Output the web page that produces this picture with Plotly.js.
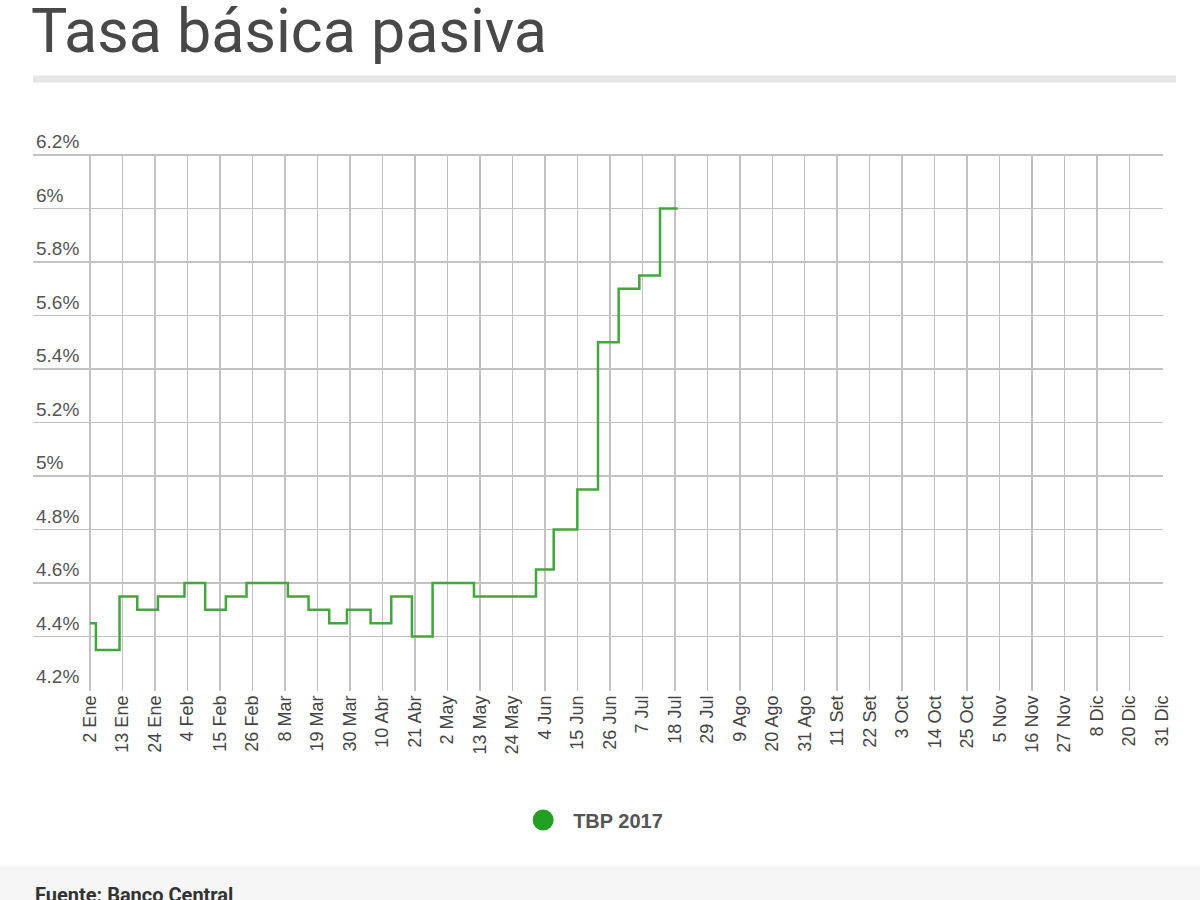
<!DOCTYPE html>
<html>
<head>
<meta charset="utf-8">
<script src="https://cdn.plot.ly/plotly-3.0.1.min.js"></script>
<style>
  html, body { margin: 0; padding: 0; background: #ffffff; }
  #chart { width: 1200px; height: 900px; }
</style>
</head>
<body>
<div id="chart"></div>
<script>
// ---- data ----
const seriesName = 'TBP 2017';
const changeDates = [
  '2017-01-02', '2017-01-04', '2017-01-12', '2017-01-18', '2017-01-25',
  '2017-02-03', '2017-02-10', '2017-02-17', '2017-02-24', '2017-03-10',
  '2017-03-17', '2017-03-24', '2017-03-30', '2017-04-07', '2017-04-14',
  '2017-04-21', '2017-04-28', '2017-05-12', '2017-06-02', '2017-06-08',
  '2017-06-16', '2017-06-23', '2017-06-30', '2017-07-07', '2017-07-14',
  '2017-07-20'
];
const rateValues = [
  4.45, 4.35, 4.55, 4.50, 4.55,
  4.60, 4.50, 4.55, 4.60, 4.55,
  4.50, 4.45, 4.50, 4.45, 4.55,
  4.40, 4.60, 4.55, 4.65, 4.80,
  4.95, 5.50, 5.70, 5.75, 6.00,
  6.00
];
const tickLabels = [
  '2 Ene', '13 Ene', '24 Ene', '4 Feb', '15 Feb', '26 Feb', '8 Mar', '19 Mar',
  '30 Mar', '10 Abr', '21 Abr', '2 May', '13 May', '24 May', '4 Jun', '15 Jun',
  '26 Jun', '7 Jul', '18 Jul', '29 Jul', '9 Ago', '20 Ago', '31 Ago', '11 Set',
  '22 Set', '3 Oct', '14 Oct', '25 Oct', '5 Nov', '16 Nov', '27 Nov', '8 Dic',
  '20 Dic', '31 Dic'
];

// ---- layout helpers ----
const DAY = 864e5;
const firstTick = Date.UTC(2017, 0, 2);
const tickStep = 11 * DAY;
const tickVals = tickLabels.map((_, i) => new Date(firstTick + i * tickStep).toISOString().slice(0, 10));
const xStart = new Date(firstTick - 19.3 * DAY).toISOString();
const xEnd = new Date(firstTick + (tickLabels.length - 1) * tickStep + 0.3 * DAY).toISOString();

const W = 1200, H = 900;
const M = { l: 33, r: 37, t: 128, b: 209 };
const pw = W - M.l - M.r, ph = H - M.t - M.b;
const px2x = px => (px - M.l) / pw;
const py2y = py => (H - M.b - py) / ph;
// vertical scale: 267.5 px per 1 percentage point
const yLow = 4.2 - 1 / 267.5;
const yHigh = yLow + ph / 267.5;

const traces = [
  {
    x: changeDates,
    y: rateValues,
    type: 'scatter',
    mode: 'lines',
    line: { shape: 'hv', color: '#43a63e', width: 2.5 },
    showlegend: false,
    hoverinfo: 'x+y'
  },
  {
    x: [null],
    y: [null],
    type: 'scatter',
    mode: 'markers',
    name: seriesName,
    marker: { color: '#22a022', size: 16, line: { color: '#22a022', width: 5 } },
    showlegend: true
  }
];

const layout = {
  width: W,
  height: H,
  margin: M,
  paper_bgcolor: '#ffffff',
  plot_bgcolor: '#ffffff',
  font: { family: 'Liberation Sans, Arial, sans-serif', color: '#4a4a4a' },
  title: {
    text: 'Tasa básica pasiva',
    font: { family: 'Roboto, sans-serif', size: 61, color: '#484848' },
    xref: 'container', yref: 'container',
    x: 31 / W, xanchor: 'left',
    y: 1 - 9 / H, yanchor: 'top'
  },
  xaxis: {
    type: 'date',
    range: [xStart, xEnd],
    tickmode: 'array',
    tickvals: tickVals,
    ticktext: tickLabels,
    tickangle: -90,
    tickfont: { size: 18, color: '#444444', family: 'Liberation Sans, Arial, sans-serif' },
    showgrid: true,
    gridcolor: '#c2c2c2',
    gridwidth: 1.5,
    zeroline: false,
    showline: false,
    ticks: '',
    fixedrange: true
  },
  yaxis: {
    range: [yLow, yHigh],
    tick0: 4.2,
    dtick: 0.2,
    ticksuffix: '%',
    ticklabelposition: 'inside top',
    tickfont: { size: 19, color: '#555555', family: 'Liberation Sans, Arial, sans-serif' },
    showgrid: true,
    gridcolor: '#c2c2c2',
    gridwidth: 1.5,
    zeroline: false,
    showline: false,
    ticks: '',
    fixedrange: true
  },
  showlegend: true,
  legend: {
    orientation: 'h',
    x: 0.4935, xanchor: 'center',
    y: py2y(820), yanchor: 'middle',
    font: { size: 20, color: '#555555', family: 'Liberation Sans, Arial, sans-serif', weight: 'bold' },
    itemsizing: 'trace',
    itemwidth: 50
  },
  shapes: [
    {
      // hide the part of the vertical grid above the 6.2% line (right of the labels)
      type: 'rect', xref: 'paper', yref: 'paper', layer: 'above',
      x0: px2x(84), x1: 1.01, y0: py2y(154), y1: 1.01,
      fillcolor: '#ffffff', line: { width: 0 }
    },
    {
      type: 'line', xref: 'paper', yref: 'paper',
      x0: px2x(33), x1: px2x(1176), y0: py2y(79), y1: py2y(79),
      line: { color: '#e6e6e6', width: 7 }
    },
    {
      type: 'rect', xref: 'paper', yref: 'paper', layer: 'below',
      x0: px2x(0), x1: px2x(1200), y0: py2y(866), y1: py2y(900),
      fillcolor: '#f6f6f6', line: { width: 0 }
    }
  ],
  annotations: [
    {
      text: 'Fuente: Banco Central',
      xref: 'paper', yref: 'paper',
      x: px2x(33), xanchor: 'left',
      y: py2y(881), yanchor: 'top',
      showarrow: false,
      font: { family: 'Roboto, sans-serif', size: 20, color: '#333333', weight: 'bold' }
    }
  ]
};

Plotly.newPlot('chart', traces, layout, { displayModeBar: false, staticPlot: true });
</script>
</body>
</html>
